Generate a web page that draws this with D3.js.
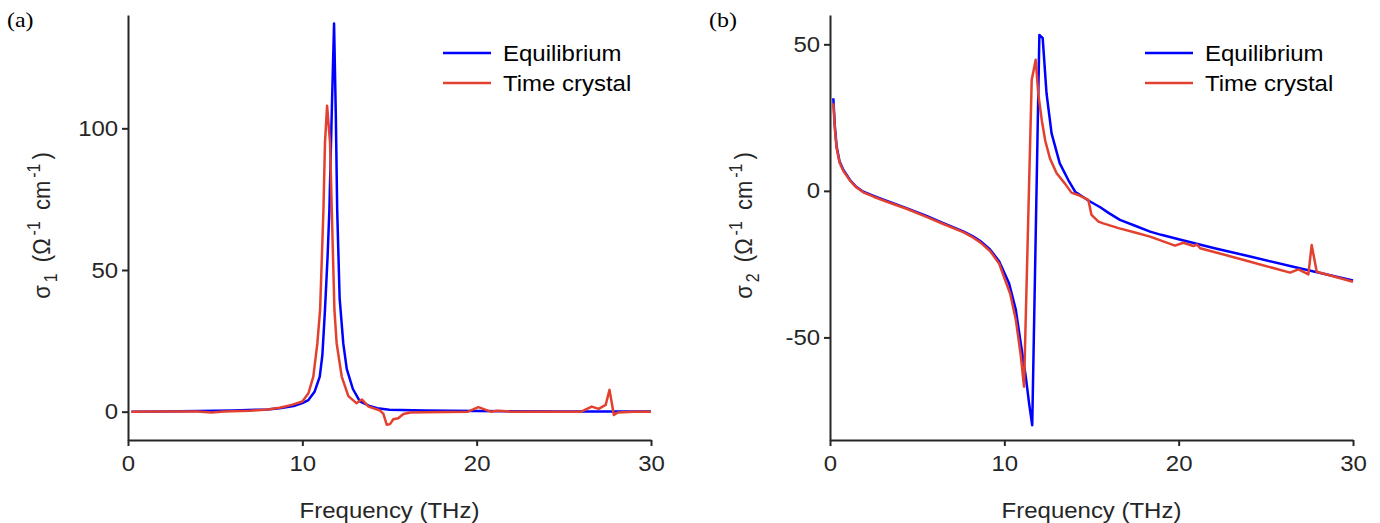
<!DOCTYPE html>
<html>
<head>
<meta charset="utf-8">
<script src="https://cdn.jsdelivr.net/npm/d3@7"></script>
<style>
body { margin: 0; background: #fff; }
</style>
</head>
<body>
<svg id="chart" width="1380" height="523"></svg>
<script>
// panel (a): sigma_1
var freqEqA = [0.2, 2, 4, 6, 8, 8.7, 9.5, 10, 10.35, 10.7, 11.0, 11.15, 11.3, 11.45, 11.55, 11.69, 11.82,
    11.92, 12.0, 12.14, 12.35, 12.55, 12.9, 13.3, 13.9, 14.3, 15, 17, 20, 25, 30];
var sigma1Eq = [0, 0.1, 0.2, 0.4, 0.8, 1.2, 2.0, 3.0, 4.1, 7, 12.4, 20, 36, 55, 71, 106, 137,
    105, 71, 40, 24, 15, 8, 3.6, 1.9, 1.2, 0.7, 0.4, 0.2, 0.1, 0.1];

var freqTcA = [0.2, 2, 4, 4.8, 5.5, 7, 8, 8.7, 9.4, 10.0, 10.35, 10.63, 10.86, 11.02, 11.21, 11.3, 11.42,
    11.59, 11.69, 11.84, 11.97, 12.26, 12.64, 13.1, 13.41, 13.8, 14.46, 14.65, 14.84, 15.03, 15.22, 15.5,
    15.8, 16.2, 17, 19.5, 20.1, 20.8, 21.2, 22, 24, 26, 26.6, 27.0, 27.4, 27.62, 27.87, 28.1, 29, 30];
var sigma1Tc = [0, 0.1, 0.1, -0.3, 0.1, 0.3, 0.8, 1.4, 2.4, 3.6, 6.5, 12.4, 24, 36, 71, 95, 108,
    95, 71, 36, 24, 12.4, 5.5, 3.0, 4.3, 1.8, 0.4, -0.8, -4.6, -4.4, -2.7, -2.3,
    -0.8, -0.3, -0.2, 0, 1.6, 0, 0.3, 0, 0, 0, 1.8, 1.0, 2.4, 7.7, -1.2, -0.3, 0, 0];

// panel (b): sigma_2
var freqEqB = [0.19, 0.28, 0.38, 0.55, 0.77, 1.15, 1.5, 1.91, 2.5, 3.3, 4.39, 5.5, 6.5, 7.64, 8.2, 8.6, 9.18,
    9.7, 10.27, 10.66, 10.94, 11.23, 11.42, 11.6, 12.01, 12.2, 12.42, 12.71, 13.18, 13.67, 14.06, 14.82,
    15.5, 16.0, 16.63, 17.5, 18.36, 19, 20, 22, 24.1, 27, 30];
var sigma2Eq = [31.6, 22, 15.1, 10, 7.1, 3.7, 1.4, -0.3, -1.7, -3.5, -5.9, -8.5, -11, -13.8, -15.5, -17, -20,
    -24, -31.5, -40.6, -52, -63.4, -72.5, -80, 53.2, 52.1, 33.3, 19.6, 9.4, 3.7, -0.3, -3.3,
    -5.6, -7.6, -9.9, -11.9, -13.9, -15.0, -16.5, -19.5, -22.4, -26.5, -30.6];

var freqTcB = [0.19, 0.28, 0.38, 0.55, 0.77, 1.15, 1.5, 1.91, 2.5, 3.3, 4.39, 5.5, 6.5, 7.64, 8.2, 8.6, 9.18,
    9.7, 10.33, 10.66, 10.94, 11.13, 11.57, 11.8, 11.95, 12.15, 12.35, 12.62, 13.0, 13.5, 13.85, 14.23,
    14.82, 15.0, 15.4, 15.67, 16.6, 17.5, 18.36, 19.79, 20.27, 20.84, 21.05, 21.23, 22.2, 24, 26.39, 26.87,
    27.44, 27.63, 27.92, 30];
var sigma2Tc = [29.9, 21, 14.5, 9.6, 6.8, 3.5, 1.2, -0.5, -2.0, -3.8, -6.1, -8.8, -11.3, -14.1, -15.9, -17.5, -20.5,
    -24.8, -35, -44, -56, -66.8, 37.8, 44.7, 33, 24, 17, 11, 6, 2.3, -0.6, -1.4,
    -3.1, -8.2, -10.5, -11.1, -12.8, -14.2, -15.6, -18.7, -17.7, -18.8, -18.3, -19.6, -21.1, -24.0, -27.9, -26.8,
    -28.5, -18.5, -27.6, -31];

var xTicks = [0, 10, 20, 30];
var yTicksA = [0, 50, 100];
var yTicksB = [-50, 0, 50];
var seriesNames = ["Equilibrium", "Time crystal"];
var seriesColors = ["#0000ff", "#e3412f"];

var FONT = 22, KX = 1.09;   // picture is a bit wider than tall
var AXIS_COLOR = "#262626";
var SANS = "'Liberation Sans', Arial, sans-serif";

var svg = d3.select("#chart");

function draw_panel(left, tag, yDomain, yTicks, sub, series) {
    var top = 15, width = 523, height = 425;

    var x = d3.scaleLinear()
        .domain([0, 30])
        .range([0, width]);

    var y = d3.scaleLinear()
        .domain(yDomain)
        .range([height, 0]);

    var g = svg.append("g")
        .attr("transform", "translate(" + left + "," + top + ")");

    var fmt = function (d) { return String(d); };  // plain hyphen minus like the original

    var gx = g.append("g")
        .attr("transform", "translate(0," + height + ")")
        .call(d3.axisBottom(x).tickValues(xTicks).tickFormat(fmt)
            .tickSizeInner(6).tickSizeOuter(0).tickPadding(9));

    var gy = g.append("g")
        .call(d3.axisLeft(y).tickValues(yTicks).tickFormat(fmt)
            .tickSizeInner(6).tickSizeOuter(0).tickPadding(3));

    [gx, gy].forEach(function (a) {
        a.select(".domain").attr("stroke", AXIS_COLOR).attr("stroke-width", 2);
        a.selectAll(".tick line").attr("stroke", AXIS_COLOR).attr("stroke-width", 2);
        a.selectAll(".tick text")
            .style("font-size", FONT + "px")
            .style("font-family", SANS)
            .attr("fill", AXIS_COLOR)
            .attr("transform", "scale(" + KX + ",1)");
    });

    // x label
    g.append("text")
        .attr("transform", "translate(" + (width / 2) + "," + (height + 78) + ") scale(" + KX + ",1)")
        .attr("text-anchor", "middle")
        .style("font-family", SANS)
        .style("font-size", FONT + "px")
        .attr("fill", AXIS_COLOR)
        .text("Frequency (THz)");

    // y label, sigma with sub/superscripts
    var yl = g.append("text")
        .attr("transform", "translate(-78," + (height / 2 - 2) + ") scale(" + KX + ",1) rotate(-90)")
        .attr("text-anchor", "middle")
        .style("font-family", SANS)
        .style("font-size", FONT + "px")
        .attr("fill", AXIS_COLOR);
    yl.append("tspan").text("σ");
    yl.append("tspan").style("font-size", "16px").attr("dx", 3).attr("dy", 6).text(sub);
    yl.append("tspan").attr("dx", 5).attr("dy", -6).text(" (Ω");
    yl.append("tspan").style("font-size", "16px").attr("dx", 3).attr("dy", -9).text("-1");
    yl.append("tspan").attr("dx", 5).attr("dy", 9).text(" cm");
    yl.append("tspan").style("font-size", "16px").attr("dx", 3).attr("dy", -9).text("-1");
    yl.append("tspan").attr("dx", 4).attr("dy", 9).text(")");

    // curves
    var line = d3.line()
        .x(function (d) { return x(d[0]); })
        .y(function (d) { return y(d[1]); });

    series.forEach(function (s, i) {
        g.append("path")
            .datum(d3.zip(s[0], s[1]))
            .attr("fill", "none")
            .attr("stroke", seriesColors[i])
            .attr("stroke-width", 2.5)
            .attr("stroke-linejoin", "round")
            .attr("d", line);
    });

    // legend
    seriesNames.forEach(function (name, i) {
        var ly = 38 + i * 30;
        g.append("line")
            .attr("x1", 315).attr("x2", 363)
            .attr("y1", ly).attr("y2", ly)
            .attr("stroke", seriesColors[i])
            .attr("stroke-width", 2.5);
        g.append("text")
            .attr("transform", "translate(375," + (ly + 8) + ") scale(" + KX + ",1)")
            .style("font-family", SANS)
            .style("font-size", FONT + "px")
            .attr("fill", "#000")
            .text(name);
    });

    // panel tag
    svg.append("text")
        .attr("transform", "translate(" + (left - 121) + ",27) scale(" + KX + ",1)")
        .style("font-family", "'Liberation Serif', 'Times New Roman', serif")
        .style("font-size", "22px")
        .attr("fill", "#000")
        .text(tag);
}

draw_panel(128, "(a)", [-10, 140], yTicksA, "1", [[freqEqA, sigma1Eq], [freqTcA, sigma1Tc]]);
draw_panel(830, "(b)", [-85, 60], yTicksB, "2", [[freqEqB, sigma2Eq], [freqTcB, sigma2Tc]]);
</script>
</body>
</html>
